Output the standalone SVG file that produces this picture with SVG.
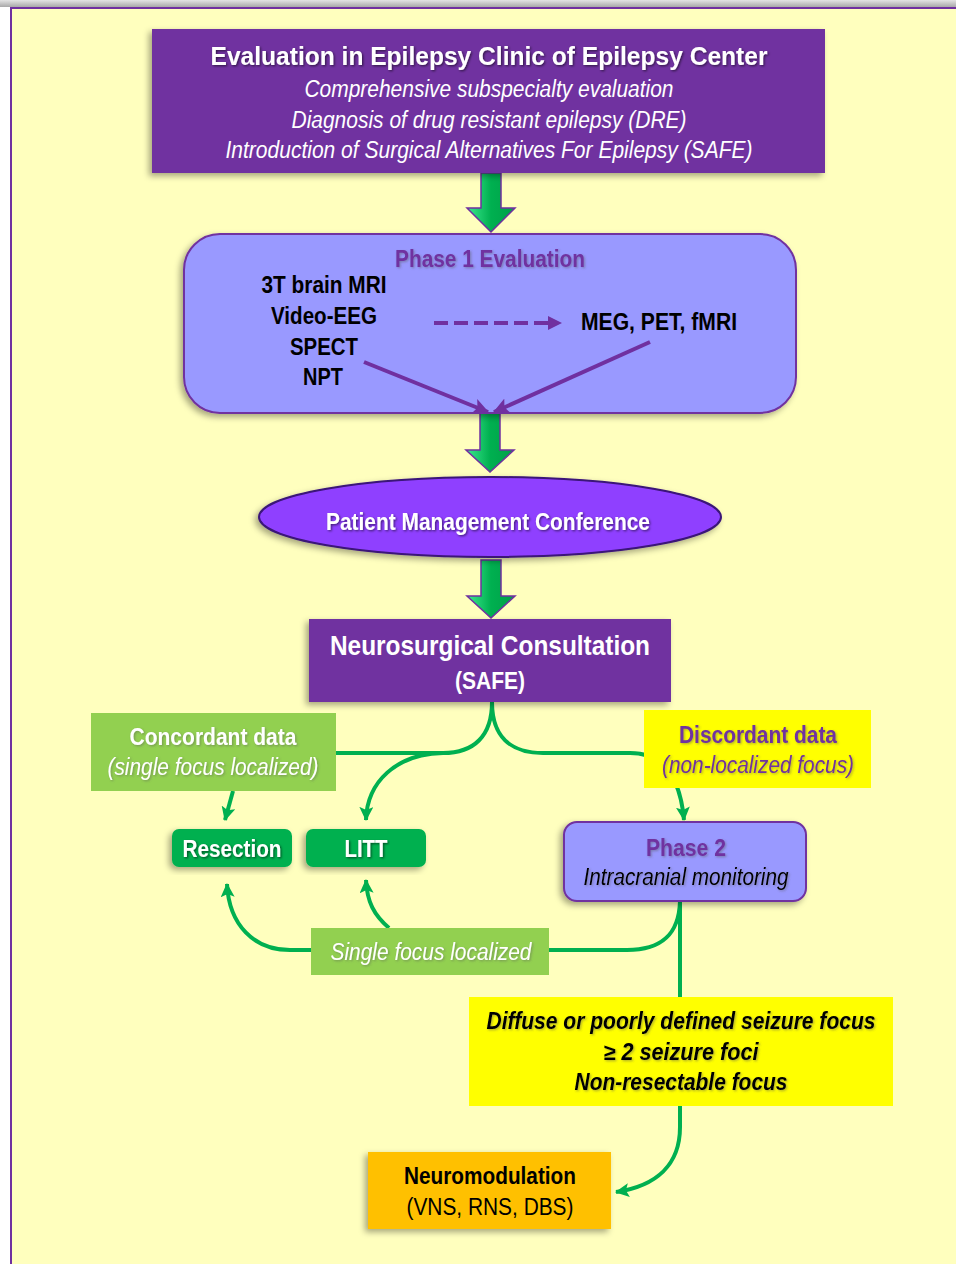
<svg xmlns="http://www.w3.org/2000/svg" width="956" height="1264" viewBox="0 0 956 1264">
<defs>
<style>
.t{font-family:"Liberation Sans Narrow","Liberation Sans",Arial,sans-serif;text-anchor:middle}
.b{font-weight:bold}
.i{font-style:italic}
.w{fill:#ffffff}
.k{fill:#000000}
.p{fill:#7030A0}
.g{fill:none;stroke:#00B050;stroke-width:4}
.pl{fill:none;stroke:#7030A0;stroke-width:4}
.ba{fill:url(#gg);stroke:#7030A0;stroke-width:1.5}
</style>
<linearGradient id="gg" x1="0" y1="0" x2="1" y2="0">
<stop offset="0" stop-color="#3CE88F"/>
<stop offset="0.5" stop-color="#00B050"/>
<stop offset="1" stop-color="#00A048"/>
</linearGradient>
<linearGradient id="topg" x1="0" y1="0" x2="0" y2="1">
<stop offset="0" stop-color="#e4e4e4"/>
<stop offset="1" stop-color="#a8a8a8"/>
</linearGradient>
<filter id="sh" x="-10%" y="-10%" width="120%" height="130%">
<feDropShadow dx="-3" dy="3" stdDeviation="3" flood-color="#000" flood-opacity="0.35"/>
</filter>
<filter id="ts" x="-5%" y="-20%" width="110%" height="150%">
<feDropShadow dx="1.2" dy="1.2" stdDeviation="0.8" flood-color="#000" flood-opacity="0.55"/>
</filter>
<filter id="tsl" x="-5%" y="-20%" width="110%" height="150%">
<feDropShadow dx="1.2" dy="1.2" stdDeviation="0.8" flood-color="#555" flood-opacity="0.45"/>
</filter>
<marker id="ag" viewBox="0 0 14 14" markerWidth="14" markerHeight="14" refX="13" refY="7" orient="auto" markerUnits="userSpaceOnUse">
<path d="M0,0 L14,7 L0,14 L3,7 z" fill="#00B050"/>
</marker>
<marker id="ap" viewBox="0 0 14 14" markerWidth="16" markerHeight="16" refX="13" refY="7" orient="auto" markerUnits="userSpaceOnUse">
<path d="M0,0 L14,7 L0,14 L3,7 z" fill="#7030A0"/>
</marker>
</defs>

<!-- frame -->
<rect x="0" y="0" width="956" height="1264" fill="#ffffff"/>
<rect x="0" y="0" width="956" height="7" fill="url(#topg)"/>
<rect x="10" y="7" width="946" height="1257" fill="#7030A0"/>
<rect x="12" y="9" width="944" height="1255" fill="#FFFFBE"/>

<!-- connectors -->
<g id="connectors">
<path class="ba" d="M481,173 L501,173 L501,208 L515,208 L491,232 L467,208 L481,208 z"/>
<path class="ba" d="M480,413 L500,413 L500,450 L514,450 L490,472 L466,450 L480,450 z"/>
<path class="ba" d="M481,560 L501,560 L501,596 L515,596 L491,618 L467,596 L481,596 z"/>
<path class="g" d="M492,702 C492,736 474,753 443,753 L336,753"/>
<path class="g" d="M443,753 C396,754 367,782 366,820" marker-end="url(#ag)"/>
<path class="g" d="M492,702 C492,736 510,753 543,753 L630,753 C662,753 680,775 684,820" marker-end="url(#ag)"/>
<path class="g" d="M233,791 L225,820" marker-end="url(#ag)"/>
<path class="g" d="M680,901 L680,997"/>
<path class="g" d="M680,901 C679,936 660,950 627,950 L549,950"/>
<path class="g" d="M311,950 L290,950 C254,950 229,925 227,884" marker-end="url(#ag)"/>
<path class="g" d="M389,928 C374,915 367,902 366,880" marker-end="url(#ag)"/>
<path class="g" d="M680,1106 L680,1127 C680,1165 656,1186 616,1192" marker-end="url(#ag)"/>
</g>

<!-- top box -->
<g id="n-eval">
<rect x="152" y="29" width="673" height="144" fill="#7030A0" filter="url(#sh)"/>
<text class="t b w" x="489" y="65" font-size="26" textLength="557" lengthAdjust="spacingAndGlyphs" filter="url(#ts)">Evaluation in Epilepsy Clinic of Epilepsy Center</text>
<text class="t i w" x="489" y="97" font-size="23" textLength="369" lengthAdjust="spacingAndGlyphs">Comprehensive subspecialty evaluation</text>
<text class="t i w" x="489" y="128" font-size="23" textLength="395" lengthAdjust="spacingAndGlyphs">Diagnosis of drug resistant epilepsy (DRE)</text>
<text class="t i w" x="489" y="158" font-size="23" textLength="527" lengthAdjust="spacingAndGlyphs">Introduction of Surgical Alternatives For Epilepsy (SAFE)</text>
</g>

<!-- phase 1 -->
<g id="n-phase1">
<rect x="184" y="234" width="612" height="179" rx="36" fill="#9999FF" stroke="#7030A0" stroke-width="2" filter="url(#sh)"/>
<text class="t b p" x="490" y="267" font-size="23" textLength="190" lengthAdjust="spacingAndGlyphs" filter="url(#tsl)">Phase 1 Evaluation</text>
<text class="t b k" x="324" y="293" font-size="23" textLength="125" lengthAdjust="spacingAndGlyphs">3T brain MRI</text>
<text class="t b k" x="324" y="324" font-size="23" textLength="106" lengthAdjust="spacingAndGlyphs">Video-EEG</text>
<text class="t b k" x="324" y="355" font-size="23" textLength="68" lengthAdjust="spacingAndGlyphs">SPECT</text>
<text class="t b k" x="323" y="385" font-size="23" textLength="40" lengthAdjust="spacingAndGlyphs">NPT</text>
<text class="t b k" x="659" y="330" font-size="23" textLength="156" lengthAdjust="spacingAndGlyphs">MEG, PET, fMRI</text>
<path class="pl" d="M434,323 L550,323" stroke-dasharray="14,6"/>
<path d="M548,316 L562,323 L548,330 z" fill="#7030A0"/>
<path class="pl" d="M364,362 L488,412" marker-end="url(#ap)"/>
<path class="pl" d="M650,342 L494,412" marker-end="url(#ap)"/>
</g>

<!-- patient management conference -->
<g id="n-pmc">
<ellipse cx="490" cy="517" rx="231" ry="40" fill="#8F40FF" stroke="#3A1478" stroke-width="2" filter="url(#sh)"/>
<text class="t b w" x="488" y="530" font-size="23" textLength="324" lengthAdjust="spacingAndGlyphs" filter="url(#ts)">Patient Management Conference</text>
</g>

<!-- neurosurgical consultation -->
<g id="n-nsc">
<rect x="309" y="619" width="362" height="83" fill="#7030A0" filter="url(#sh)"/>
<text class="t b w" x="490" y="655" font-size="27" textLength="320" lengthAdjust="spacingAndGlyphs">Neurosurgical Consultation</text>
<text class="t b w" x="490" y="689" font-size="23" textLength="70" lengthAdjust="spacingAndGlyphs">(SAFE)</text>
</g>

<!-- concordant -->
<g id="n-concordant">
<rect x="91" y="713" width="245" height="78" fill="#92D050"/>
<text class="t b w" x="213" y="745" font-size="23" textLength="167" lengthAdjust="spacingAndGlyphs" filter="url(#tsl)">Concordant data</text>
<text class="t i w" x="213" y="775" font-size="23" textLength="211" lengthAdjust="spacingAndGlyphs" filter="url(#tsl)">(single focus localized)</text>
</g>

<!-- discordant -->
<g id="n-discordant">
<rect x="644" y="710" width="227" height="78" fill="#FFFF00"/>
<text class="t b p" x="758" y="743" font-size="23" textLength="158" lengthAdjust="spacingAndGlyphs" filter="url(#tsl)">Discordant data</text>
<text class="t i p" x="758" y="773" font-size="23" textLength="192" lengthAdjust="spacingAndGlyphs" filter="url(#tsl)">(non-localized focus)</text>
</g>

<!-- resection -->
<g id="n-resection">
<rect x="172" y="829" width="120" height="38" rx="7" fill="#00B050" filter="url(#sh)"/>
<text class="t b w" x="232" y="857" font-size="23" textLength="99" lengthAdjust="spacingAndGlyphs" filter="url(#ts)">Resection</text>
</g>

<!-- LITT -->
<g id="n-litt">
<rect x="306" y="829" width="120" height="38" rx="7" fill="#00B050" filter="url(#sh)"/>
<text class="t b w" x="366" y="857" font-size="23" textLength="43" lengthAdjust="spacingAndGlyphs" filter="url(#ts)">LITT</text>
</g>

<!-- phase 2 -->
<g id="n-phase2">
<rect x="564" y="822" width="242" height="79" rx="13" fill="#9999FF" stroke="#7030A0" stroke-width="2" filter="url(#sh)"/>
<text class="t b p" x="686" y="856" font-size="23" textLength="80" lengthAdjust="spacingAndGlyphs" filter="url(#tsl)">Phase 2</text>
<text class="t i k" x="686" y="885" font-size="23" textLength="205" lengthAdjust="spacingAndGlyphs" filter="url(#tsl)">Intracranial monitoring</text>
</g>

<!-- single focus localized -->
<g id="n-single">
<rect x="311" y="928" width="238" height="47" fill="#92D050"/>
<text class="t i w" x="431" y="960" font-size="23" textLength="201" lengthAdjust="spacingAndGlyphs" filter="url(#tsl)">Single focus localized</text>
</g>

<!-- diffuse -->
<g id="n-diffuse">
<rect x="469" y="997" width="424" height="109" fill="#FFFF00"/>
<text class="t b i k" x="681" y="1029" font-size="23" textLength="389" lengthAdjust="spacingAndGlyphs" filter="url(#tsl)">Diffuse or poorly defined seizure focus</text>
<text class="t b i k" x="681" y="1060" font-size="23" textLength="155" lengthAdjust="spacingAndGlyphs" filter="url(#tsl)">≥ 2 seizure foci</text>
<text class="t b i k" x="681" y="1090" font-size="23" textLength="213" lengthAdjust="spacingAndGlyphs" filter="url(#tsl)">Non-resectable focus</text>
</g>

<!-- neuromodulation -->
<g id="n-neuromod">
<rect x="368" y="1152" width="243" height="77" fill="#FFC000" filter="url(#sh)"/>
<text class="t b k" x="490" y="1184" font-size="23" textLength="172" lengthAdjust="spacingAndGlyphs">Neuromodulation</text>
<text class="t k" x="490" y="1215" font-size="23" textLength="167" lengthAdjust="spacingAndGlyphs">(VNS, RNS, DBS)</text>
</g>
</svg>
